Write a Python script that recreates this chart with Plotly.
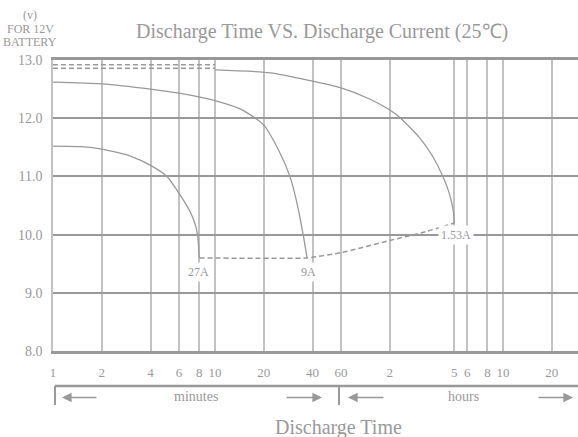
import numpy as np
import plotly.graph_objects as go

# ---------------- data (time in minutes, voltage in V) ----------------
t_27A = [1, 1.5, 2, 3, 4, 5, 6, 7, 7.5, 7.8, 8]
v_27A = [11.52, 11.51, 11.47, 11.35, 11.19, 11.01, 10.71, 10.4, 10.2, 10.0, 9.6]

t_9A = [1, 2, 4, 6, 10, 15, 20, 25, 29, 32, 35, 37]
v_9A = [12.62, 12.59, 12.5, 12.43, 12.3, 12.13, 11.88, 11.42, 11.0, 10.55, 10.0, 9.6]

t_153A = [10, 22, 38, 60, 90, 120, 140, 185, 220, 255, 280, 296, 300]
v_153A = [12.83, 12.78, 12.65, 12.52, 12.33, 12.14, 12.0, 11.65, 11.35, 11.0, 10.7, 10.4, 10.2]

# end-voltage (dashed) line
t_end = [8, 37, 60, 120, 200, 300]
v_end = [9.6, 9.6, 9.69, 9.9, 10.05, 10.2]

# short dashed lines at the top left
t_top = [1, 10]
v_top1 = [12.92, 12.92]
v_top2 = [12.86, 12.86]

curve_labels = ["27A", "9A", "1.53A"]
label_t = [7.9, 37.5, 307]
label_v = [9.36, 9.36, 10.0]

x_tick_min = [1, 2, 4, 6, 8, 10, 20, 40, 60, 120, 300, 360, 480, 600, 1200]
x_tick_text = ["1", "2", "4", "6", "8", "10", "20", "40", "60", "2", "5", "6", "8", "10", "20"]
y_ticks = [8, 9, 10, 11, 12, 13]

# ---------------- styling ----------------
GRAY = "#999999"
LIGHT = "#c2c2c2"
FONT = "Liberation Serif"
W, H = 578, 437
ML, MR, MT, MB = 53, 0, 60, 86
PW, PH = W - ML - MR, H - MT - MB


def px(x):
    return (x - ML) / PW


def py(y):
    return (H - MB - y) / PH


def txt(x, y, s, size):
    return dict(x=px(x), y=py(y), xref="paper", yref="paper", showarrow=False, text=s,
                xanchor="center", yanchor="middle",
                font=dict(family=FONT, size=size, color=GRAY))


fig = go.Figure()

line_style = dict(color=GRAY, width=1.3)
for t, v, name in [(t_27A, v_27A, "27A"), (t_9A, v_9A, "9A"), (t_153A, v_153A, "1.53A")]:
    fig.add_trace(go.Scatter(x=t, y=v, mode="lines", line=dict(line_style, shape="spline", smoothing=0.6),
                             name=name, hoverinfo="skip"))

dash_style = dict(color=GRAY, width=1.5, dash="5px,3px")
fig.add_trace(go.Scatter(x=t_end, y=v_end, mode="lines", line=dict(dash_style, shape="spline", smoothing=0.5),
                         hoverinfo="skip"))
fig.add_trace(go.Scatter(x=t_top, y=v_top1, mode="lines", line=dash_style, hoverinfo="skip"))
fig.add_trace(go.Scatter(x=t_top, y=v_top2, mode="lines", line=dash_style, hoverinfo="skip"))

annotations = []
for lab, t, v in zip(curve_labels, label_t, label_v):
    annotations.append(dict(x=np.log10(t), y=v, xref="x", yref="y", text=lab, showarrow=False,
                            xanchor="center", yanchor="middle", bgcolor="white", borderpad=2,
                            font=dict(family=FONT, size=12, color=GRAY)))

annotations += [
    txt(322, 32, "Discharge Time VS. Discharge Current (25\u2103)", 20),
    txt(30, 15, "(v)", 12),
    txt(30, 29, "FOR 12V", 12),
    txt(30, 42, "BATTERY", 12),
    txt(196, 397, "minutes", 14),
    txt(463, 397, "hours", 14),
    txt(338, 427, "Discharge Time", 20),
]

# arrows (head, tail) in pixels
for head, tail in [(62, 98), (322, 285), (348, 385), (573, 537)]:
    annotations.append(dict(x=px(head), y=py(397.5), xref="paper", yref="paper", text="",
                            showarrow=True, ax=tail - head, ay=0, arrowhead=2, arrowsize=1.2,
                            arrowwidth=1.6, arrowcolor=GRAY))

shapes = [
    dict(type="line", xref="paper", yref="paper", x0=px(55), x1=px(578), y0=py(386), y1=py(386),
         line=dict(color=GRAY, width=2.5)),
    dict(type="line", xref="paper", yref="paper", x0=px(55), x1=px(55), y0=py(386), y1=py(405),
         line=dict(color=GRAY, width=2)),
    dict(type="line", xref="paper", yref="paper", x0=px(339), x1=px(339), y0=py(386), y1=py(405),
         line=dict(color=GRAY, width=2)),
]

fig.update_layout(
    width=W, height=H,
    margin=dict(l=ML, r=MR, t=MT, b=MB),
    paper_bgcolor="white", plot_bgcolor="white",
    showlegend=False,
    annotations=annotations,
    shapes=shapes,
    xaxis=dict(type="log", range=[0, np.log10(1740)], tickvals=x_tick_min, ticktext=x_tick_text,
               showgrid=True, gridcolor=LIGHT, gridwidth=1.6, zeroline=False,
               showline=True, mirror=True, linecolor=GRAY, linewidth=2.5,
               ticks="outside", ticklen=8, tickcolor="rgba(0,0,0,0)",
               tickfont=dict(family=FONT, size=13, color=GRAY)),
    yaxis=dict(range=[8, 13], tickvals=y_ticks, tickformat=".1f",
               showgrid=True, gridcolor=GRAY, gridwidth=2.4, zeroline=False,
               showline=True, linecolor=LIGHT, linewidth=1.6,
               ticks="outside", ticklen=6, tickcolor="rgba(0,0,0,0)",
               tickfont=dict(family=FONT, size=14, color=GRAY)),
)

fig.write_html("out.html", config={"displayModeBar": False},
               post_script="document.body.style.margin='0px';document.body.style.overflow='hidden';")
